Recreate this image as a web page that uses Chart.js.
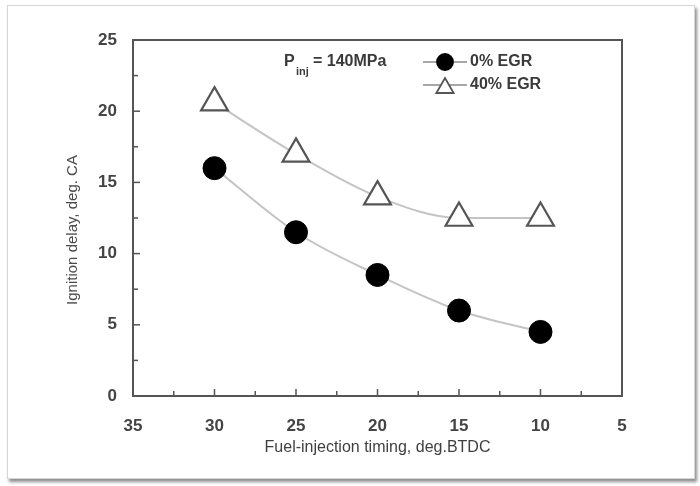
<!DOCTYPE html>
<html>
<head>
<meta charset="utf-8">
<script src="https://cdn.jsdelivr.net/npm/chart.js@4.4.1/dist/chart.umd.min.js"></script>
<style>
  html, body { margin: 0; padding: 0; background: #fff; }
  #wrap { position: relative; width: 700px; height: 486px; overflow: hidden; }
  #frame {
    position: absolute; left: 7px; top: 5px; width: 686px; height: 472px;
    border: 1px solid #d6d6d6; box-shadow: 2px 3px 3px #8f8f8f; background: #fff;
  }
  #c { position: absolute; left: 0; top: 0; }
</style>
</head>
<body>
<div id="wrap">
  <div id="frame"></div>
  <canvas id="c" width="700" height="486"></canvas>
</div>
<script>
// --- datos ---
const timing = [30, 25, 20, 15, 10];          // deg. BTDC
const egr0 = [16.0, 11.5, 8.5, 6.0, 4.5];     // 0% EGR
const egr40 = [20.6, 17.0, 14.0, 12.5, 12.5]; // 40% EGR
const xTicks = [35, 30, 25, 20, 15, 10, 5];
const yTicks = [0, 5, 10, 15, 20, 25];

const axisColor = '#555';
const textColor = '#3a3a3a';
const fontFam = '"Liberation Sans", Arial, sans-serif';

const toXY = (xs, ys) => xs.map((x, i) => ({ x: x, y: ys[i] }));

// marco, ticks hacia adentro, título Y y leyenda
const framePlugin = {
  id: 'frame',
  beforeDatasetsDraw(chart) {
    const { ctx, chartArea: a, scales: { x, y } } = chart;
    ctx.save();
    ctx.strokeStyle = axisColor;
    ctx.lineWidth = 2;
    ctx.strokeRect(a.left, a.top, a.right - a.left, a.bottom - a.top);
    ctx.lineWidth = 1.5;
    // ticks (mayores cada 5, menores cada 2.5)
    for (let v = x.min; v <= x.max; v += 2.5) {
      const px = x.getPixelForValue(v);
      const len = (v % 5 === 0) ? 7 : 5;
      ctx.beginPath();
      ctx.moveTo(px, a.bottom);
      ctx.lineTo(px, a.bottom - len);
      ctx.stroke();
    }
    for (let v = y.min; v <= y.max; v += 2.5) {
      const py = y.getPixelForValue(v);
      const len = (v % 5 === 0) ? 7 : 5;
      ctx.beginPath();
      ctx.moveTo(a.left, py);
      ctx.lineTo(a.left + len, py);
      ctx.stroke();
    }
    // título eje Y (un poco por debajo del centro, como en la figura)
    ctx.translate(73, (a.top + a.bottom) / 2 + 12);
    ctx.rotate(-Math.PI / 2);
    ctx.fillStyle = '#4a4a4a';
    ctx.font = '15px ' + fontFam;
    ctx.textAlign = 'center';
    ctx.textBaseline = 'middle';
    ctx.fillText('Ignition delay, deg. CA', 0, 0);
    ctx.restore();
  },
  afterDraw(chart) {
    const { ctx } = chart;
    ctx.save();
    ctx.fillStyle = textColor;
    ctx.textBaseline = 'middle';
    // P_inj = 140MPa
    ctx.font = 'bold 16px ' + fontFam;
    ctx.fillText('P', 284, 62);
    ctx.font = 'bold 11px ' + fontFam;
    ctx.fillText('inj', 296, 72);
    ctx.font = 'bold 16px ' + fontFam;
    ctx.fillText('= 140MPa', 313, 62);

    const rows = [
      { ds: chart.data.datasets[0], y: 62, r: 8 },
      { ds: chart.data.datasets[1], y: 85, r: 10 }
    ];
    rows.forEach(row => {
      ctx.strokeStyle = '#8a8a8a';
      ctx.lineWidth = 1.5;
      ctx.beginPath();
      ctx.moveTo(423, row.y);
      ctx.lineTo(467, row.y);
      ctx.stroke();
      ctx.fillStyle = row.ds.pointBackgroundColor;
      ctx.strokeStyle = row.ds.pointBorderColor;
      ctx.lineWidth = 1.8;
      Chart.helpers.drawPoint(ctx, {
        pointStyle: row.ds.pointStyle,
        radius: row.r,
        borderWidth: 1.8,
        rotation: 0
      }, 445, row.y + (row.ds.pointStyle === 'triangle' ? 3 : 0));
      ctx.fillStyle = textColor;
      ctx.font = 'bold 16px ' + fontFam;
      ctx.fillText(row.ds.label, 470, row.y);
    });
    ctx.restore();
  }
};

new Chart(document.getElementById('c'), {
  type: 'line',
  data: {
    datasets: [
      {
        label: '0% EGR',
        data: toXY(timing, egr0),
        borderColor: '#c4c4c4',
        borderWidth: 2,
        cubicInterpolationMode: 'monotone',
        pointStyle: 'circle',
        pointRadius: 11.5,
        pointBackgroundColor: '#000',
        pointBorderColor: '#000',
        pointBorderWidth: 1
      },
      {
        label: '40% EGR',
        data: toXY(timing, egr40),
        borderColor: '#c4c4c4',
        borderWidth: 2,
        cubicInterpolationMode: 'monotone',
        pointStyle: 'triangle',
        pointRadius: 15.5,
        pointBackgroundColor: '#fff',
        pointBorderColor: '#555',
        pointBorderWidth: 2.2
      }
    ]
  },
  options: {
    responsive: false,
    animation: false,
    events: [],
    layout: { padding: { left: 0, top: 40, right: 78, bottom: 0 } },
    plugins: { legend: { display: false }, tooltip: { enabled: false } },
    scales: {
      x: {
        type: 'linear',
        reverse: true,
        min: 5, max: 35,
        afterBuildTicks: s => { s.ticks = xTicks.map(v => ({ value: v })); },
        afterFit: s => { s.height = 90; },
        grid: { display: false },
        border: { display: false },
        ticks: { color: '#444', padding: 12, font: { size: 17, weight: 'bold', family: fontFam } },
        title: {
          display: true,
          text: 'Fuel-injection timing, deg.BTDC',
          color: '#3f3f3f',
          font: { size: 16, family: fontFam },
          padding: { top: 0, bottom: 29 }
        }
      },
      y: {
        min: 0, max: 25,
        afterBuildTicks: s => { s.ticks = yTicks.map(v => ({ value: v })); },
        afterFit: s => { s.width = 133; },
        grid: { display: false },
        border: { display: false },
        ticks: { color: '#444', padding: 8, font: { size: 17, weight: 'bold', family: fontFam } }
      }
    }
  },
  plugins: [framePlugin]
});
</script>
</body>
</html>
